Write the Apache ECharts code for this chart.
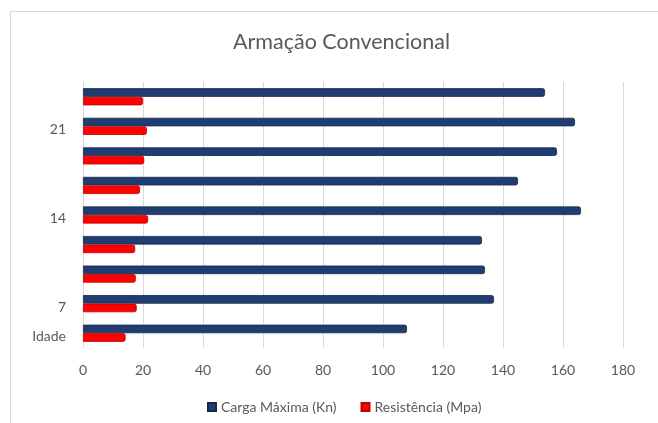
<!DOCTYPE html>
<html>
<head>
<meta charset="utf-8">
<script src="https://cdn.jsdelivr.net/npm/echarts@6/dist/echarts.min.js"></script>
<style>
html,body{margin:0;padding:0;background:#fff;}
#chart{width:658px;height:423px;}
</style>
</head>
<body>
<div id="chart"></div>
<script>
var categories = ["Idade", "7", "", "", "14", "", "", "21", ""];
var cargaMaxima = [108, 137, 134, 133, 166, 145, 158, 164, 154];
var resistencia = [14.2, 17.9, 17.6, 17.4, 21.7, 19.0, 20.4, 21.3, 20.0];
var xTicks = [0, 20, 40, 60, 80, 100, 120, 140, 160, 180];
var seriesNames = ["Carga Máxima (Kn)", "Resistência (Mpa)"];
var titleText = "Armação Convencional";

var FONT = "Lato";
var chart = echarts.init(document.getElementById('chart'), null, {renderer: 'canvas'});
chart.setOption({
  animation: false,
  backgroundColor: '#ffffff',
  title: {
    text: titleText,
    left: 228,
    top: 26,
    textStyle: {fontFamily: FONT, fontSize: 21.5, fontWeight: 'normal', color: '#595959'}
  },
  legend: {
    data: seriesNames,
    bottom: 4,
    left: 202,
    itemWidth: 8,
    itemHeight: 8,
    itemGap: 24,
    icon: 'rect',
    textStyle: {fontFamily: FONT, fontSize: 14, color: '#595959'}
  },
  grid: {left: 83, right: 35, top: 82, bottom: 75, containLabel: false},
  xAxis: {
    type: 'value',
    min: xTicks[0],
    max: xTicks[xTicks.length - 1],
    interval: xTicks[1] - xTicks[0],
    axisLine: {show: false},
    axisTick: {show: false},
    axisLabel: {fontFamily: FONT, fontSize: 14, color: '#595959', margin: 15},
    splitLine: {show: true, lineStyle: {color: '#d9d9d9', width: 1}}
  },
  yAxis: {
    type: 'category',
    data: categories,
    axisLine: {show: false},
    axisTick: {show: false},
    axisLabel: {fontFamily: FONT, fontSize: 14, color: '#595959', margin: 17, interval: 0, verticalAlign: 'top', lineHeight: 7},
    splitLine: {show: false}
  },
  series: [
    {
      name: seriesNames[0],
      type: 'bar',
      data: cargaMaxima,
      barGap: '0%',
      barCategoryGap: '42%',
      itemStyle: {color: '#203d72', borderColor: '#16294d', borderWidth: 0.8, borderRadius: [0, 2, 2, 0]}
    },
    {
      name: seriesNames[1],
      type: 'bar',
      data: resistencia,
      barGap: '0%',
      barCategoryGap: '42%',
      itemStyle: {color: '#ff0000', borderColor: '#c00000', borderWidth: 0.8, borderRadius: [0, 2, 2, 0]}
    }
  ],
  graphic: [
    {type: 'line', shape: {x1: 10.5, y1: 11.5, x2: 658, y2: 11.5}, style: {stroke: '#d9d9d9', lineWidth: 1}, silent: true},
    {type: 'line', shape: {x1: 10.5, y1: 11.5, x2: 10.5, y2: 423}, style: {stroke: '#d9d9d9', lineWidth: 1}, silent: true}
  ]
});
</script>
</body>
</html>
